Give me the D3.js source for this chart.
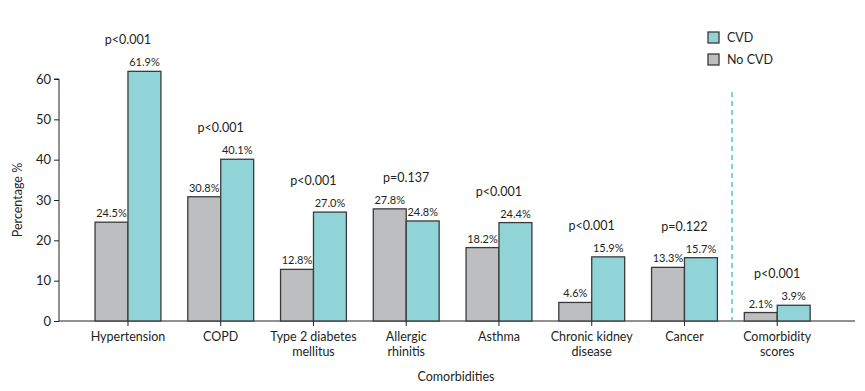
<!DOCTYPE html>
<html>
<head>
<meta charset="utf-8">
<script src="https://cdn.jsdelivr.net/npm/d3@7"></script>
<style>
  body { margin: 0; background: #fff; }
  text { font-family: Lato, "Open Sans", sans-serif; fill: #231f20; }
</style>
</head>
<body>
<script>
var width = 865;
var height = 391;

var categories = ['Hypertension', 'COPD', 'Type 2 diabetes\nmellitus', 'Allergic\nrhinitis',
  'Asthma', 'Chronic kidney\ndisease', 'Cancer', 'Comorbidity\nscores'];
var noCvd = [24.5, 30.8, 12.8, 27.8, 18.2, 4.6, 13.3, 2.1];
var cvd = [61.9, 40.1, 27.0, 24.8, 24.4, 15.9, 15.7, 3.9];
var pValues = ['p<0.001', 'p<0.001', 'p<0.001', 'p=0.137', 'p<0.001', 'p<0.001', 'p=0.122', 'p<0.001'];
var yTicks = [0, 10, 20, 30, 40, 50, 60];

var grey = '#bcbebf';
var teal = '#90d4d8';
var edge = '#3a3a3a';

var svg = d3.select('body')
            .append('svg')
            .attr('width', width)
            .attr('height', height);

var xScale = d3.scaleBand()
                .domain(categories)
                .range([81.6, 823.6])
                .paddingInner(0.29)
                .paddingOuter(0.145);

var yScale = d3.scaleLinear()
                .domain([0, 60])
                .range([321, 79]);

var half = xScale.bandwidth() / 2;

// y axis
var yAxis = svg.append('g')
    .attr('transform', 'translate(59,0)')
    .call(d3.axisLeft(yScale).tickValues(yTicks).tickSize(5).tickPadding(3));
yAxis.select('.domain').attr('stroke', '#222').attr('d', 'M-5,79H0V321');
yAxis.selectAll('.tick line').attr('stroke', '#222');
yAxis.selectAll('.tick text').style('font-size', '13px').attr('fill', '#231f20');

// x axis line + ticks
var xAxis = svg.append('g')
    .attr('transform', 'translate(0,321)')
    .call(d3.axisBottom(xScale).tickSize(5).tickFormat(''));
xAxis.select('.domain').attr('stroke', '#222').attr('d', 'M59,0H855');
xAxis.selectAll('.tick line').attr('stroke', '#222');

// dashed separator
svg.append('line')
    .attr('x1', 732).attr('x2', 732)
    .attr('y1', 92).attr('y2', 321)
    .attr('stroke', '#2ab7c0')
    .attr('stroke-width', 1.2)
    .attr('stroke-dasharray', '5,4');

var groups = svg.selectAll('.cat')
    .data(categories)
    .enter()
    .append('g')
    .attr('class', 'cat');

groups.append('rect')
    .attr('x', function (d) { return xScale(d); })
    .attr('y', function (d, i) { return yScale(noCvd[i]); })
    .attr('width', half)
    .attr('height', function (d, i) { return yScale(0) - yScale(noCvd[i]); })
    .attr('fill', grey)
    .attr('stroke', edge)
    .attr('stroke-width', 1.3);

groups.append('rect')
    .attr('x', function (d) { return xScale(d) + half; })
    .attr('y', function (d, i) { return yScale(cvd[i]); })
    .attr('width', half)
    .attr('height', function (d, i) { return yScale(0) - yScale(cvd[i]); })
    .attr('fill', teal)
    .attr('stroke', edge)
    .attr('stroke-width', 1.3);

groups.append('text')
    .attr('x', function (d) { return xScale(d) + half / 2; })
    .attr('y', function (d, i) { return yScale(noCvd[i]) - 5; })
    .attr('text-anchor', 'middle')
    .style('font-size', '11px')
    .text(function (d, i) { return noCvd[i].toFixed(1) + '%'; });

groups.append('text')
    .attr('x', function (d) { return xScale(d) + half * 1.5; })
    .attr('y', function (d, i) { return yScale(cvd[i]) - 5; })
    .attr('text-anchor', 'middle')
    .style('font-size', '11px')
    .text(function (d, i) { return cvd[i].toFixed(1) + '%'; });

groups.append('text')
    .attr('x', function (d) { return xScale(d) + half; })
    .attr('y', function (d, i) { return yScale(Math.max(cvd[i], noCvd[i])) - 27; })
    .attr('text-anchor', 'middle')
    .style('font-size', '12.5px')
    .text(function (d, i) { return pValues[i]; });

// category labels
groups.append('text')
    .attr('x', function (d) { return xScale(d) + half; })
    .attr('y', 341)
    .attr('text-anchor', 'middle')
    .style('font-size', '12.5px')
    .selectAll('tspan')
    .data(function (d) { return d.split('\n'); })
    .enter()
    .append('tspan')
    .attr('x', function () { return d3.select(this.parentNode).attr('x'); })
    .attr('dy', function (d, i) { return i === 0 ? 0 : 15; })
    .text(function (d) { return d; });

// axis titles
svg.append('text')
    .attr('x', 456)
    .attr('y', 381)
    .attr('text-anchor', 'middle')
    .style('font-size', '12.5px')
    .text('Comorbidities');

svg.append('text')
    .attr('transform', 'translate(22,200) rotate(-90)')
    .attr('text-anchor', 'middle')
    .style('font-size', '12.5px')
    .text('Percentage %');

// legend
var legendItems = [{ label: 'CVD', color: teal }, { label: 'No CVD', color: grey }];
var legend = svg.selectAll('.legend')
    .data(legendItems)
    .enter()
    .append('g')
    .attr('class', 'legend')
    .attr('transform', function (d, i) { return 'translate(708,' + (32 + i * 22) + ')'; });

legend.append('rect')
    .attr('width', 11)
    .attr('height', 11)
    .attr('fill', function (d) { return d.color; })
    .attr('stroke', edge)
    .attr('stroke-width', 1.3);

legend.append('text')
    .attr('x', 19)
    .attr('y', 10)
    .style('font-size', '12.5px')
    .text(function (d) { return d.label; });
</script>
</body>
</html>
